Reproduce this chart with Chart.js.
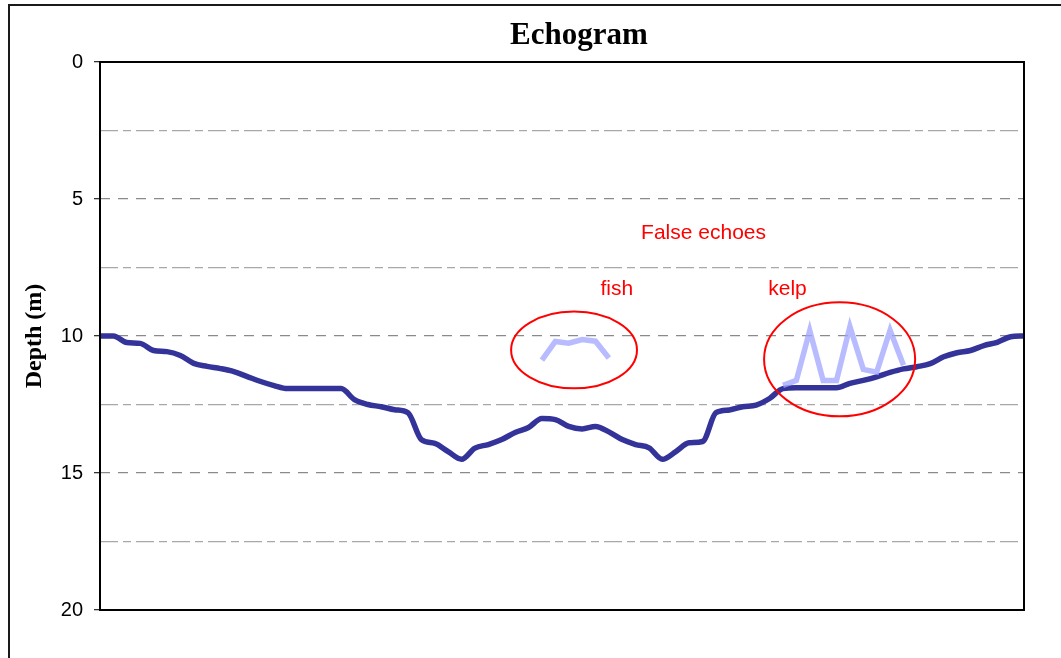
<!DOCTYPE html>
<html>
<head>
<meta charset="utf-8">
<title>Echogram</title>
<script src="https://cdn.jsdelivr.net/npm/chart.js@4.4.1/dist/chart.umd.min.js"></script>
<style>
  html, body { margin: 0; padding: 0; background: #fff; overflow: hidden; }
  #wrap { position: relative; width: 1061px; height: 658px; }
</style>
</head>
<body>
<div id="wrap"><canvas id="echoChart" width="1061" height="658"></canvas></div>
<script>
// sounding number along the track
const pings = [
  0, 1, 2, 3, 4, 5, 6, 7, 8, 9,
  10, 11, 12, 13, 14, 15, 16, 17, 18, 19,
  20, 21, 22, 23, 24, 25, 26, 27, 28, 29,
  30, 31, 32, 33, 34, 35, 36, 37, 38, 39,
  40, 41, 42, 43, 44, 45, 46, 47, 48, 49,
  50, 51, 52, 53, 54, 55, 56, 57, 58, 59,
  60, 61, 62, 63, 64, 65, 66, 67, 68, 69
];

// sea floor depth (m)
const bottomDepth = [
  10.0, 10.0, 10.24, 10.27, 10.53, 10.57, 10.71, 11.0, 11.11, 11.19,
  11.3, 11.48, 11.66, 11.81, 11.92, 11.92, 11.92, 11.92, 11.92, 12.32,
  12.5, 12.58, 12.69, 12.8, 13.78, 13.92, 14.22, 14.5, 14.09, 13.96,
  13.78, 13.52, 13.34, 13.01, 13.05, 13.3, 13.39, 13.3, 13.5, 13.78,
  13.96, 14.08, 14.5, 14.22, 13.9, 13.85, 12.8, 12.7, 12.58, 12.52,
  12.28, 11.92, 11.89, 11.89, 11.89, 11.89, 11.73, 11.62, 11.49, 11.33,
  11.2, 11.12, 11.01, 10.76, 10.61, 10.53, 10.35, 10.23, 10.03, 10.0
];

// false echoes
const fishPings = [33, 34, 35, 36, 37, 38];
const fishDepth = [10.88, 10.2, 10.26, 10.13, 10.19, 10.8];
const kelpPings = [51, 52, 53, 54, 55, 56, 57, 58, 59, 60];
const kelpDepth = [11.8, 11.62, 9.8, 11.62, 11.62, 9.66, 11.22, 11.32, 9.79, 11.07];

// depth axis
const gridDepths = [0, 2.5, 5, 7.5, 10, 12.5, 15, 17.5, 20];
const depthTicks = [0, 5, 10, 15, 20];

// red notes, placed in ping / depth units
const echoRings = [
  { ping: 35.4, depth: 10.51, pingRadius: 4.7, depthRadius: 1.4 },
  { ping: 55.23, depth: 10.85, pingRadius: 5.64, depthRadius: 2.08 }
];
const echoNotes = [
  { text: 'False echoes', ping: 45.07, depth: 6.26 },
  { text: 'fish', ping: 38.59, depth: 8.3 },
  { text: 'kelp', ping: 51.34, depth: 8.3 }
];

function toPoints(xs, ys) {
  return xs.map((x, i) => ({ x: x, y: ys[i] }));
}

const isMajor = (v) => depthTicks.includes(v);

const echoDecor = {
  id: 'echoDecor',
  beforeDraw(chart) {
    const ctx = chart.ctx;
    ctx.save();
    ctx.strokeStyle = '#1a1a1a';
    ctx.lineWidth = 2;
    ctx.strokeRect(9, 5, 1300, 900);
    ctx.restore();
  },
  afterDatasetsDraw(chart) {
    const { ctx, chartArea, scales } = chart;
    const x = scales.x, y = scales.y;
    ctx.save();
    // plot frame
    ctx.strokeStyle = '#000';
    ctx.lineWidth = 2;
    ctx.strokeRect(chartArea.left, chartArea.top, chartArea.right - chartArea.left, chartArea.bottom - chartArea.top);

    ctx.strokeStyle = '#ff0000';
    ctx.lineWidth = 2;
    echoRings.forEach((r) => {
      const cx = x.getPixelForValue(r.ping);
      const cy = y.getPixelForValue(r.depth);
      const rx = Math.abs(x.getPixelForValue(r.ping + r.pingRadius) - cx);
      const ry = Math.abs(y.getPixelForValue(r.depth + r.depthRadius) - cy);
      ctx.beginPath();
      ctx.ellipse(cx, cy, rx, ry, 0, 0, Math.PI * 2);
      ctx.stroke();
    });

    ctx.fillStyle = '#ff0000';
    ctx.font = '21px "Liberation Sans", Arial, sans-serif';
    ctx.textAlign = 'center';
    ctx.textBaseline = 'middle';
    echoNotes.forEach((n) => {
      ctx.fillText(n.text, x.getPixelForValue(n.ping), y.getPixelForValue(n.depth));
    });

    // chart title
    ctx.fillStyle = '#000';
    ctx.font = 'bold 31px "Liberation Serif", "Times New Roman", serif';
    ctx.fillText('Echogram', 579, 36);
    ctx.restore();
  }
};

const chart = new Chart(document.getElementById('echoChart'), {
  type: 'line',
  data: {
    datasets: [
      {
        label: 'Bottom',
        data: toPoints(pings, bottomDepth),
        borderColor: '#333399',
        borderWidth: 5.5,
        pointRadius: 0,
        cubicInterpolationMode: 'monotone',
        order: 1
      },
      {
        label: 'Fish',
        data: toPoints(fishPings, fishDepth),
        borderColor: 'rgba(160, 165, 255, 0.75)',
        borderWidth: 5.5,
        pointRadius: 0,
        tension: 0,
        order: 0
      },
      {
        label: 'Kelp',
        data: toPoints(kelpPings, kelpDepth),
        borderColor: 'rgba(160, 165, 255, 0.75)',
        borderWidth: 5.5,
        pointRadius: 0,
        tension: 0,
        order: 0
      }
    ]
  },
  options: {
    responsive: false,
    animation: false,
    devicePixelRatio: 1,
    layout: { padding: { left: 8, top: 62, right: 37, bottom: 48 } },
    plugins: {
      legend: { display: false },
      title: { display: false },
      tooltip: { enabled: false }
    },
    scales: {
      x: {
        type: 'linear',
        min: 0,
        max: 69,
        display: false
      },
      y: {
        type: 'linear',
        reverse: true,
        min: 0,
        max: 20,
        afterBuildTicks: (scale) => {
          scale.ticks = gridDepths.map((v) => ({ value: v }));
        },
        afterFit: (scale) => {
          scale.width = 92;
        },
        ticks: {
          padding: 11,
          color: '#000',
          font: { family: '"Liberation Sans", Arial, sans-serif', size: 20 },
          callback: (v) => (isMajor(v) ? String(v) : '')
        },
        grid: {
          drawTicks: true,
          tickLength: 6,
          lineWidth: 1.3,
          color: (c) => (c.tick && isMajor(c.tick.value) ? '#8a8a8a' : '#a8a8a8'),
          tickColor: (c) => (c.tick && isMajor(c.tick.value) ? '#333' : 'rgba(0,0,0,0)')
        },
        border: {
          display: false,
          dash: (c) => (c.tick && isMajor(c.tick.value) ? [10, 8] : [18, 5, 8, 5])
        },
        title: {
          display: true,
          text: 'Depth (m)',
          color: '#000',
          padding: { top: 12, bottom: 0 },
          font: { family: '"Liberation Serif", "Times New Roman", serif', size: 24, weight: 'bold' }
        }
      }
    }
  },
  plugins: [echoDecor]
});
</script>
</body>
</html>
